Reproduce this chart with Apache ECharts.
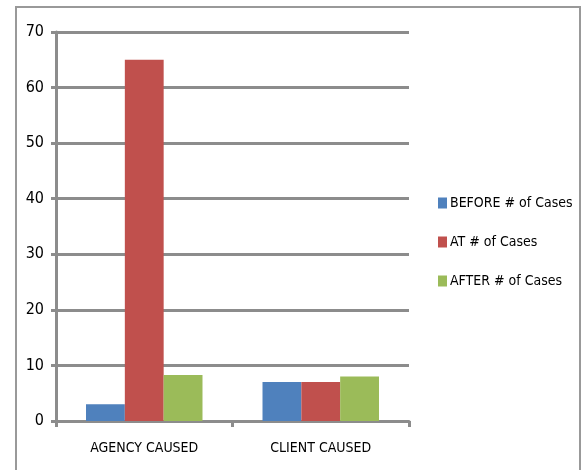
<!DOCTYPE html>
<html lang="en">
<head>
  <meta charset="UTF-8">
  <title>Cases chart</title>
  <style>
    html, body { margin: 0; padding: 0; background: #fff; }
    #chart { width: 588px; height: 470px; }
  </style>
</head>
<body>
  <div id="chart"></div>
  <script src="https://cdn.jsdelivr.net/npm/echarts@6/dist/echarts.min.js"></script>
  <script>
    // data
    var categories = ['AGENCY CAUSED', 'CLIENT CAUSED'];
    var seriesNames = ['BEFORE # of Cases', 'AT # of Cases', 'AFTER # of Cases'];
    var beforeCases = [3, 7];
    var atCases = [65, 7];
    var afterCases = [8.3, 8];
    var yTicks = { min: 0, max: 70, interval: 10 };

    var font = "'Liberation Sans Narrow', 'DejaVu Sans Condensed', 'Open Sans', sans-serif";
    var gray = '#8c8c8c';
    var colors = ['#4f81bd', '#c0504d', '#9bbb59'];

    var myChart = echarts.init(document.getElementById('chart'));

    var option = {
      animation: false,
      color: colors,
      textStyle: { fontFamily: font },
      graphic: [{
        type: 'rect',
        shape: { x: 16, y: 7, width: 564, height: 470 },
        style: { fill: 'none', stroke: '#999', lineWidth: 2 },
        silent: true
      }],
      legend: {
        orient: 'vertical',
        left: 433,
        top: 191,
        itemWidth: 9,
        itemHeight: 11,
        itemGap: 25,
        icon: 'rect',
        textStyle: { fontFamily: font, fontSize: 14, color: '#000', padding: [0, 0, 0, -2] },
        data: seriesNames
      },
      grid: { left: 56, top: 32, width: 353, height: 389 },
      xAxis: {
        type: 'category',
        data: categories,
        axisLine: { lineStyle: { color: gray, width: 3 } },
        axisTick: { show: true, length: 6, lineStyle: { color: gray, width: 3 } },
        axisLabel: { color: '#000', fontSize: 14, fontFamily: font, margin: 20 }
      },
      yAxis: {
        type: 'value',
        min: yTicks.min,
        max: yTicks.max,
        interval: yTicks.interval,
        axisLine: { show: true, lineStyle: { color: gray, width: 3 } },
        axisTick: { show: true, length: 5, lineStyle: { color: gray, width: 3 } },
        splitLine: { lineStyle: { color: gray, width: 3 } },
        axisLabel: { color: '#000', fontSize: 16, fontFamily: font, margin: 12 }
      },
      series: [
        { name: seriesNames[0], type: 'bar', data: beforeCases, barGap: '0%', barCategoryGap: '34%' },
        { name: seriesNames[1], type: 'bar', data: atCases, barGap: '0%', barCategoryGap: '34%' },
        { name: seriesNames[2], type: 'bar', data: afterCases, barGap: '0%', barCategoryGap: '34%' }
      ]
    };

    myChart.setOption(option);
  </script>
</body>
</html>
